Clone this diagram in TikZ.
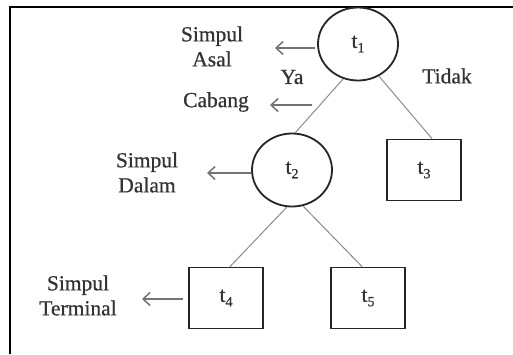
\documentclass[tikz,border=0pt]{standalone}
\usepackage{fontspec}
\setmainfont{Liberation Serif}[FakeBold=0.6]
\usetikzlibrary{arrows.meta,shapes.geometric}
\newcommand{\tsub}[1]{t\raisebox{-0.45ex}{\fontsize{14}{14}\selectfont #1}}
\begin{document}
\begin{tikzpicture}[x=1pt,y=-1pt,
  lbl/.style={font=\fontsize{21.5}{25}\selectfont, text=black!80, align=center, inner sep=0pt},
  ell/.style={draw=black!85, line width=1.8pt, ellipse, minimum width=80pt, minimum height=73pt, inner sep=0pt, font=\fontsize{21.5}{25}\selectfont, text=black!80},
  box/.style={draw=black!85, line width=1.8pt, rectangle, minimum width=74pt, minimum height=61pt, inner sep=0pt, font=\fontsize{21.5}{25}\selectfont, text=black!80},
  link/.style={draw=black!45, line width=1pt},
  pointer/.style={draw=black!55, line width=1.5pt, -{Straight Barb[length=7pt,width=13pt,line width=1.5pt]}}
]
\useasboundingbox (0,0) rectangle (513,354);
\fill[white] (0,0) rectangle (513,354);
\draw[line width=2.4pt] (10,354) -- (10,7) -- (513,7);
% nodes
\node[ell] (t1) at (358,44) {\tsub{1}};
\node[ell] (t2) at (292,170) {\tsub{2}};
\node[box] (t3) at (424,170) {\tsub{3}};
\node[box] (t4) at (226,298) {\tsub{4}};
\node[box] (t5) at (368,298) {\tsub{5}};
% links
\draw[link] (t1.-113) -- (t2.85);
\draw[link] (t1.-57) -- ([xshift=8pt]t3.north);
\draw[link] (t2.-98) -- ([xshift=4pt]t4.north);
\draw[link] (t2.-73) -- ([xshift=-6pt]t5.north);
% labels
\node[lbl] (asal) at (212,46.5) {Simpul\\Asal};
\node[lbl] (ya) at (292,77) {Ya};
\node[lbl] (tidak) at (447,76) {Tidak};
\node[lbl] (cabang) at (216,102) {Cabang};
\node[lbl] (dalam) at (147,172.5) {Simpul\\Dalam};
\node[lbl] (terminal) at (78,295.5) {Simpul\\Terminal};
% pointers
\coordinate (p1s) at (315,48);
\coordinate (p1e) at (275,48);
\coordinate (p2s) at (312,105);
\coordinate (p2e) at (270,105);
\coordinate (p3e) at (207,173);
\coordinate (p4e) at (142,299);
\draw[pointer] (p1s) -- (p1e);
\draw[pointer] (p2s) -- (p2e);
\draw[pointer] ([yshift=-3pt]t2.west) -- (p3e);
\draw[pointer] ([xshift=-5pt,yshift=-1pt]t4.west) -- (p4e);
\end{tikzpicture}
\end{document}
